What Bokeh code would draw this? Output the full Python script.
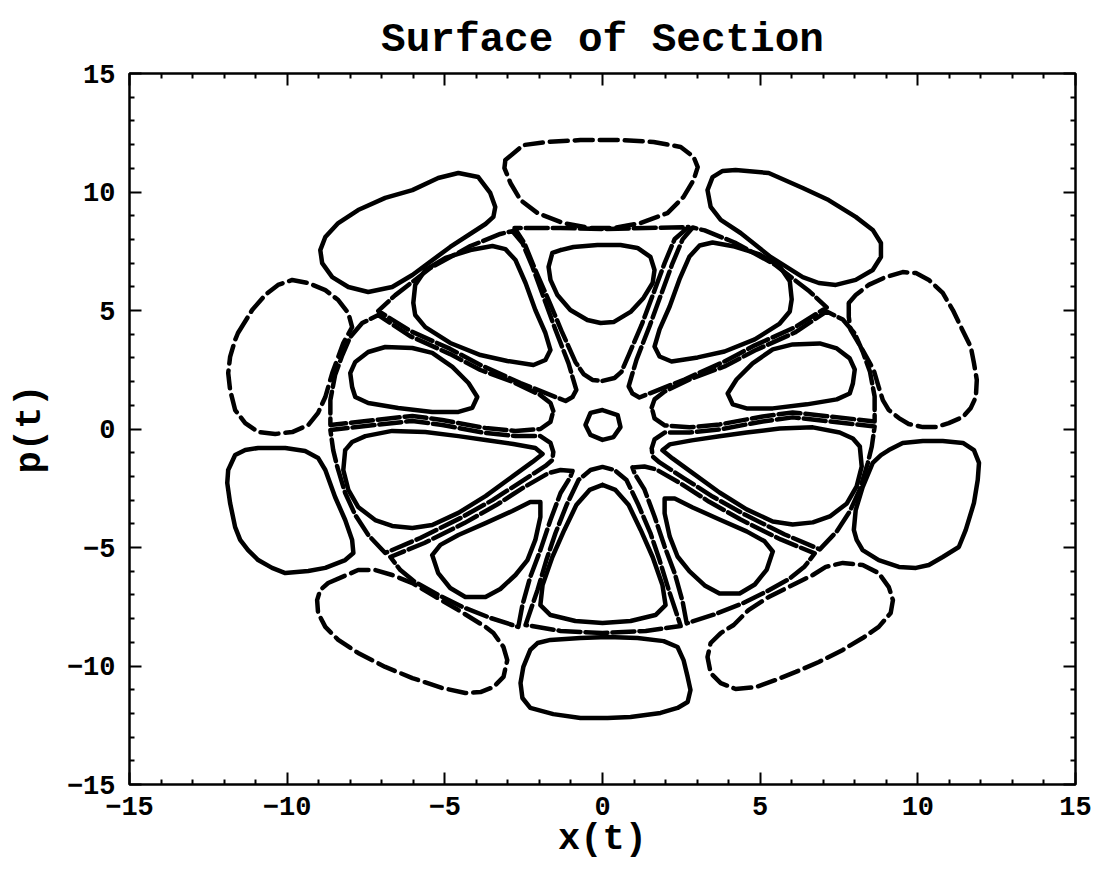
from bokeh.plotting import figure
from bokeh.models import Range1d, LinearAxis, FixedTicker
from bokeh.embed import file_html
from bokeh.resources import INLINE

# ---- outer ring of islands: (x, p) samples along each orbit ----
top_x = [-3.08, -2.51, -1.75, -0.70, 0.57, 1.62, 2.48, 2.89, 3.02, 2.89, 2.57, 2.06, 1.21, 0.35, -0.38, -1.24, -2.06, -2.60, -2.92, -3.11]
top_y = [11.35, 11.98, 12.11, 12.19, 12.19, 12.11, 11.90, 11.48, 11.05, 10.51, 9.79, 9.11, 8.69, 8.48, 8.48, 8.69, 9.11, 9.66, 10.38, 11.01]
ul_x = [-4.57, -3.94, -3.56, -3.40, -3.46, -3.71, -4.83, -6.03, -6.67, -7.43, -8.06, -8.57, -8.89, -8.95, -8.79, -8.38, -7.75, -6.89, -6.03, -5.21]
ul_y = [10.80, 10.63, 9.96, 9.37, 8.95, 8.65, 7.68, 6.50, 5.99, 5.78, 5.99, 6.41, 7.00, 7.55, 8.10, 8.69, 9.24, 9.75, 10.08, 10.59]
ur_x = [3.33, 3.49, 3.81, 4.22, 5.27, 6.35, 7.17, 8.03, 8.57, 8.83, 8.83, 8.57, 8.03, 7.40, 6.86, 6.35, 5.33, 4.38, 3.75, 3.43]
ur_y = [10.08, 10.63, 10.89, 10.93, 10.80, 10.17, 9.66, 8.95, 8.40, 7.85, 7.26, 6.71, 6.29, 6.08, 6.16, 6.41, 7.26, 8.27, 8.82, 9.37]
lu_x = [-11.56, -11.11, -10.70, -10.29, -9.84, -9.33, -8.79, -8.38, -8.06, -7.94, -8.22, -8.38, -8.57, -8.79, -9.02, -9.33, -9.84, -10.38, -10.92, -11.33, -11.65, -11.81, -11.87, -11.81, -11.65]
lu_y = [4.05, 5.02, 5.65, 6.08, 6.29, 6.16, 5.86, 5.44, 4.89, 4.30, 3.63, 3.04, 2.36, 1.35, 0.68, 0.17, -0.13, -0.21, -0.13, 0.25, 0.80, 1.65, 2.36, 3.04, 3.76]
ll_x = [-11.87, -11.65, -11.33, -10.92, -10.06, -9.43, -9.02, -8.79, -8.48, -8.16, -7.94, -7.90, -8.16, -8.79, -9.33, -10.06, -10.48, -10.92, -11.24, -11.49, -11.65, -11.81, -11.90]
ll_y = [-1.73, -1.10, -0.89, -0.80, -0.80, -0.93, -1.22, -1.73, -2.87, -3.84, -4.68, -5.23, -5.53, -5.86, -5.99, -6.08, -5.86, -5.53, -5.11, -4.68, -4.14, -3.12, -2.28]
bl_x = [-8.70, -8.25, -7.75, -7.21, -6.67, -6.03, -5.40, -4.57, -3.71, -3.46, -3.14, -3.02, -3.14, -3.46, -3.87, -4.35, -5.08, -6.03, -6.89, -7.75, -8.38, -8.79, -9.02, -9.05, -8.95]
bl_y = [-6.50, -6.24, -5.95, -5.95, -6.16, -6.50, -7.00, -7.64, -8.35, -8.61, -9.20, -9.75, -10.46, -10.89, -11.10, -11.14, -10.93, -10.51, -10.04, -9.45, -8.90, -8.35, -7.76, -7.22, -6.79]
bot_x = [-2.29, -2.06, -1.65, -0.70, 0.16, 1.11, 1.94, 2.38, 2.57, 2.70, 2.79, 2.70, 2.38, 1.84, 0.89, 0.16, -0.70, -1.56, -2.29, -2.54, -2.60, -2.51]
bot_y = [-9.32, -9.03, -8.90, -8.82, -8.78, -8.82, -8.95, -9.20, -9.75, -10.46, -11.01, -11.52, -11.77, -11.98, -12.15, -12.19, -12.19, -12.03, -11.77, -11.35, -10.72, -10.04]
br_x = [6.67, 7.08, 7.62, 8.25, 8.76, 9.08, 9.21, 9.14, 8.76, 8.25, 7.62, 6.86, 6.13, 5.49, 4.86, 4.22, 3.75, 3.43, 3.33, 3.43, 3.75, 4.16, 4.63, 5.27, 5.90, 6.35]
br_y = [-6.16, -5.82, -5.65, -5.74, -6.08, -6.67, -7.22, -7.76, -8.35, -8.82, -9.32, -9.83, -10.25, -10.59, -10.89, -10.97, -10.72, -10.30, -9.62, -9.03, -8.61, -8.27, -7.64, -7.09, -6.67, -6.37]
rl_x = [9.08, 9.52, 10.16, 10.79, 11.43, 11.78, 11.94, 11.90, 11.78, 11.52, 11.30, 10.79, 10.35, 9.94, 9.40, 8.76, 8.25, 8.06, 7.97, 8.03, 8.25, 8.57, 8.83]
rl_y = [-0.89, -0.59, -0.51, -0.51, -0.59, -0.89, -1.43, -2.15, -3.12, -4.26, -4.98, -5.40, -5.74, -5.86, -5.82, -5.53, -5.11, -4.68, -4.26, -3.42, -2.45, -1.43, -1.10]
ru_x = [7.81, 8.03, 8.44, 8.98, 9.52, 9.94, 10.35, 10.79, 11.11, 11.37, 11.68, 11.78, 11.87, 11.84, 11.68, 11.43, 10.98, 10.57, 10.16, 9.71, 9.40, 9.08, 8.89, 8.76, 8.60, 8.25, 7.87, 7.81]
ru_y = [5.32, 5.65, 6.08, 6.41, 6.62, 6.58, 6.29, 5.74, 5.02, 4.30, 3.46, 2.78, 2.07, 1.35, 0.89, 0.51, 0.25, 0.08, 0.08, 0.21, 0.46, 0.80, 1.22, 1.77, 2.49, 3.33, 4.18, 4.73]

# ---- inner ring of islands ----
isA_x = [-1.33, -0.92, -0.16, 0.57, 1.11, 1.52, 1.65, 1.59, 1.30, 0.89, 0.35, -0.06, -0.48, -1.02, -1.43, -1.65, -1.71, -1.59]
isA_y = [7.55, 7.68, 7.76, 7.76, 7.64, 7.26, 6.71, 6.16, 5.53, 4.94, 4.51, 4.47, 4.60, 5.02, 5.65, 6.29, 6.84, 7.43]
isB_x = [-6.00, -5.94, -5.62, -4.98, -4.19, -3.49, -3.08, -2.76, -2.44, -2.13, -1.81, -1.65, -1.81, -2.19, -3.02, -3.87, -4.83, -5.62, -5.94]
isB_y = [5.32, 6.08, 6.71, 7.22, 7.55, 7.72, 7.59, 7.13, 6.16, 5.02, 4.05, 3.33, 2.91, 2.70, 2.87, 3.12, 3.63, 4.30, 4.81]
isC_x = [6.00, 5.94, 5.62, 4.98, 4.19, 3.49, 3.08, 2.76, 2.44, 2.13, 1.81, 1.65, 1.81, 2.19, 3.02, 3.87, 4.83, 5.62, 5.94]
isC_y = [5.47, 6.23, 6.86, 7.37, 7.70, 7.87, 7.74, 7.28, 6.31, 5.17, 4.20, 3.48, 3.06, 2.85, 3.02, 3.27, 3.78, 4.45, 4.96]
isD_x = [-7.94, -8.00, -7.84, -7.43, -6.89, -6.03, -5.40, -4.76, -4.25, -3.97, -4.13, -4.57, -5.40, -6.48, -7.43, -7.84]
isD_y = [1.77, 2.36, 2.83, 3.25, 3.46, 3.42, 3.21, 2.62, 1.94, 1.35, 0.89, 0.72, 0.72, 0.89, 1.10, 1.35]
isE_x = [7.94, 8.00, 7.84, 7.43, 6.89, 6.03, 5.40, 4.76, 4.25, 3.97, 4.13, 4.57, 5.40, 6.48, 7.43, 7.84]
isE_y = [1.92, 2.51, 2.98, 3.40, 3.61, 3.57, 3.36, 2.77, 2.09, 1.50, 1.04, 0.87, 0.87, 1.04, 1.25, 1.50]
isF_x = [-8.16, -8.22, -8.06, -7.75, -7.21, -6.67, -6.03, -5.40, -4.57, -3.71, -2.83, -2.22, -1.90, -2.13, -2.83, -3.71, -4.57, -5.62, -6.67, -7.52, -7.94]
isF_y = [-0.89, -1.73, -2.57, -3.29, -3.84, -4.09, -4.18, -4.05, -3.54, -2.83, -1.98, -1.39, -1.05, -0.80, -0.63, -0.46, -0.30, -0.13, -0.08, -0.30, -0.55]
isG_x = [8.16, 8.22, 8.06, 7.75, 7.21, 6.67, 6.03, 5.40, 4.57, 3.71, 2.83, 2.22, 1.90, 2.13, 2.83, 3.71, 4.57, 5.62, 6.67, 7.52, 7.94]
isG_y = [-0.74, -1.58, -2.42, -3.14, -3.69, -3.94, -4.03, -3.90, -3.39, -2.68, -1.83, -1.24, -0.90, -0.65, -0.48, -0.31, -0.15, 0.02, 0.07, -0.15, -0.40]
isH_x = [-5.40, -5.14, -4.57, -3.71, -2.86, -2.29, -1.97, -1.97, -2.13, -2.38, -2.76, -3.24, -3.71, -4.35, -4.83, -5.21]
isH_y = [-5.32, -4.89, -4.47, -3.97, -3.46, -3.08, -3.08, -3.71, -4.68, -5.53, -6.16, -6.75, -7.09, -7.09, -6.71, -6.08]
isI_x = [5.40, 5.14, 4.57, 3.71, 2.86, 2.29, 1.97, 1.97, 2.13, 2.38, 2.76, 3.24, 3.71, 4.35, 4.83, 5.21]
isI_y = [-5.17, -4.74, -4.32, -3.82, -3.31, -2.93, -2.93, -3.56, -4.53, -5.38, -6.01, -6.60, -6.94, -6.94, -6.56, -5.93]
isJ_x = [0.00, 0.41, 0.83, 1.21, 1.59, 1.90, 2.00, 1.68, 0.89, 0.00, -0.86, -1.65, -1.97, -1.90, -1.59, -1.21, -0.83, -0.41]
isJ_y = [-2.36, -2.57, -3.21, -4.26, -5.40, -6.58, -7.43, -7.85, -8.10, -8.19, -8.10, -7.85, -7.43, -6.58, -5.40, -4.26, -3.21, -2.57]
core_x = [0.00, 0.48, 0.57, 0.35, 0.00, -0.38, -0.54, -0.38]
core_y = [0.80, 0.59, 0.08, -0.34, -0.46, -0.25, 0.17, 0.68]

# ---- separatrix cells around each inner island ----
cA_x = [0.00, 0.38, 0.60, 0.83, 1.24, 1.62, 1.97, 2.29, 2.73, 1.37, 0.00, -1.33, -2.79, -2.48, -2.13, -1.71, -1.30, -0.86, -0.60, -0.32]
cA_y = [2.03, 2.15, 2.41, 3.12, 4.39, 5.74, 7.00, 8.02, 8.52, 8.48, 8.44, 8.48, 8.48, 7.85, 6.71, 5.44, 4.14, 2.83, 2.32, 2.07]
cB_x = [-0.95, -0.83, -1.08, -1.49, -1.87, -2.22, -2.54, -2.86, -3.24, -4.19, -5.46, -6.57, -7.11, -6.10, -4.83, -3.87, -2.60, -1.49, -1.17]
cB_y = [1.35, 1.65, 2.78, 4.18, 5.57, 6.84, 7.85, 8.35, 8.23, 7.72, 6.79, 5.65, 4.98, 4.14, 3.38, 2.70, 1.94, 1.35, 1.18]
cC_x = [0.95, 0.83, 1.08, 1.49, 1.87, 2.22, 2.54, 2.86, 3.24, 4.19, 5.46, 6.57, 7.11, 6.10, 4.83, 3.87, 2.60, 1.49, 1.17]
cC_y = [1.50, 1.80, 2.93, 4.33, 5.72, 6.99, 8.00, 8.50, 8.38, 7.87, 6.94, 5.80, 5.13, 4.29, 3.53, 2.85, 2.09, 1.50, 1.33]
cD_x = [-1.56, -1.65, -1.97, -2.83, -3.87, -4.83, -6.10, -7.11, -7.62, -8.00, -8.25, -8.48, -8.63, -8.63, -7.21, -6.03, -5.08, -3.71, -2.76, -1.97, -1.65]
cD_y = [0.76, 1.10, 1.43, 1.98, 2.49, 3.16, 3.92, 4.81, 4.47, 3.88, 3.12, 2.28, 1.22, 0.17, 0.38, 0.55, 0.38, 0.04, -0.08, 0.00, 0.30]
cE_x = [1.56, 1.65, 1.97, 2.83, 3.87, 4.83, 6.10, 7.11, 7.62, 8.00, 8.25, 8.48, 8.63, 8.63, 7.21, 6.03, 5.08, 3.71, 2.76, 1.97, 1.65]
cE_y = [0.91, 1.25, 1.58, 2.13, 2.64, 3.31, 4.07, 4.96, 4.62, 4.03, 3.27, 2.43, 1.37, 0.32, 0.53, 0.70, 0.53, 0.19, 0.07, 0.15, 0.45]
cF_x = [-1.56, -1.65, -1.97, -2.76, -3.71, -5.08, -6.03, -7.21, -8.63, -8.54, -8.41, -8.16, -7.84, -7.43, -6.89, -5.78, -4.51, -3.49, -2.60, -1.81, -1.59]
cF_y = [-0.97, -0.59, -0.30, -0.30, -0.17, 0.17, 0.34, 0.17, -0.04, -0.89, -1.60, -2.70, -3.63, -4.47, -5.23, -4.60, -3.76, -3.00, -2.24, -1.56, -1.31]
cG_x = [1.56, 1.65, 1.97, 2.76, 3.71, 5.08, 6.03, 7.21, 8.63, 8.54, 8.41, 8.16, 7.84, 7.43, 6.89, 5.78, 4.51, 3.49, 2.60, 1.81, 1.59]
cG_y = [-0.82, -0.44, -0.15, -0.15, -0.02, 0.32, 0.49, 0.32, 0.11, -0.74, -1.45, -2.55, -3.48, -4.32, -5.08, -4.45, -3.61, -2.85, -2.09, -1.41, -1.16]
cH_x = [-0.95, -1.33, -1.71, -2.48, -3.37, -4.38, -5.65, -6.73, -6.41, -5.94, -5.21, -4.44, -3.56, -2.67, -2.54, -2.29, -1.97, -1.65, -1.33, -1.02]
cH_y = [-1.77, -1.73, -1.86, -2.45, -3.21, -3.97, -4.81, -5.40, -5.95, -6.46, -7.00, -7.51, -7.97, -8.35, -7.43, -6.24, -5.11, -3.84, -2.70, -2.03]
cI_x = [0.95, 1.33, 1.71, 2.48, 3.37, 4.38, 5.65, 6.73, 6.41, 5.94, 5.21, 4.44, 3.56, 2.67, 2.54, 2.29, 1.97, 1.65, 1.33, 1.02]
cI_y = [-1.62, -1.58, -1.71, -2.30, -3.06, -3.82, -4.66, -5.25, -5.80, -6.31, -6.85, -7.36, -7.82, -8.20, -7.28, -6.09, -4.96, -3.69, -2.55, -1.88]
cJ_x = [0.00, -0.38, -0.76, -1.14, -1.49, -1.78, -2.06, -2.44, -1.33, 0.00, 1.37, 2.48, 2.10, 1.81, 1.52, 1.14, 0.76, 0.38]
cJ_y = [-1.60, -1.73, -2.15, -3.21, -4.39, -5.53, -6.79, -8.27, -8.52, -8.61, -8.52, -8.31, -6.79, -5.53, -4.39, -3.21, -2.15, -1.73]

# axis ticks
major_ticks = [-15, -10, -5, 0, 5, 10, 15]
minor_ticks = [v for v in range(-15, 16) if v % 5 != 0]
tick_text = ["\u221215", "\u221210", "\u22125", "0", "5", "10", "15"]

SOLID = None
DASHED = "18 7"
BROKEN = "22 5"

curves = [
    (top_x, top_y, DASHED), (ul_x, ul_y, SOLID), (ur_x, ur_y, SOLID),
    (lu_x, lu_y, DASHED), (ll_x, ll_y, SOLID), (bl_x, bl_y, DASHED),
    (bot_x, bot_y, SOLID), (br_x, br_y, DASHED), (rl_x, rl_y, SOLID),
    (ru_x, ru_y, DASHED),
    (isA_x, isA_y, SOLID), (isB_x, isB_y, SOLID), (isC_x, isC_y, SOLID),
    (isD_x, isD_y, SOLID), (isE_x, isE_y, SOLID), (isF_x, isF_y, SOLID),
    (isG_x, isG_y, SOLID), (isH_x, isH_y, SOLID), (isI_x, isI_y, SOLID),
    (isJ_x, isJ_y, SOLID), (core_x, core_y, SOLID),
    (cA_x, cA_y, BROKEN), (cB_x, cB_y, BROKEN), (cC_x, cC_y, BROKEN),
    (cD_x, cD_y, BROKEN), (cE_x, cE_y, BROKEN), (cF_x, cF_y, BROKEN),
    (cG_x, cG_y, BROKEN), (cH_x, cH_y, BROKEN), (cI_x, cI_y, BROKEN),
    (cJ_x, cJ_y, BROKEN),
]

FONT = "Liberation Mono"

p = figure(width=1096, height=883, output_backend="svg", toolbar_location=None,
           x_range=Range1d(-15, 15), y_range=Range1d(-15, 15),
           min_border_left=129, min_border_right=21, min_border_top=73,
           min_border_bottom=99, x_axis_location=None, y_axis_location=None)
p.title.text = "Surface of Section"
p.title.align = "center"
p.title.text_font = FONT
p.title.text_font_style = "bold"
p.title.text_font_size = "41px"
p.title.text_color = "black"
p.title.standoff = 22

p.grid.visible = False
p.outline_line_color = "black"
p.outline_line_width = 2.5
p.background_fill_color = "white"
p.border_fill_color = "white"


def style_ticks(ax):
    ax.axis_line_color = None
    ax.major_tick_in = 12
    ax.major_tick_out = 0
    ax.minor_tick_in = 5
    ax.minor_tick_out = 0
    ax.major_tick_line_width = 2
    ax.minor_tick_line_width = 2
    ax.major_tick_line_color = "black"
    ax.minor_tick_line_color = "black"


def labelled_axis(label, standoff, label_standoff):
    ax = LinearAxis(ticker=FixedTicker(ticks=major_ticks, minor_ticks=minor_ticks))
    style_ticks(ax)
    ax.major_label_overrides = dict(zip(major_ticks, tick_text))
    ax.major_label_text_font = FONT
    ax.major_label_text_font_style = "bold"
    ax.major_label_text_font_size = "27px"
    ax.major_label_text_color = "black"
    ax.major_label_standoff = standoff
    ax.axis_label = label
    ax.axis_label_text_font = FONT
    ax.axis_label_text_font_style = "bold"
    ax.axis_label_text_font_size = "37px"
    ax.axis_label_text_color = "black"
    ax.axis_label_standoff = label_standoff
    return ax


def tick_only_axis(positions, length):
    # an axis that carries only short inward ticks (no labels)
    ax = LinearAxis(ticker=FixedTicker(ticks=[], minor_ticks=positions))
    style_ticks(ax)
    ax.minor_tick_in = length
    ax.major_label_standoff = 0
    ax.axis_label_standoff = 0
    return ax


p.add_layout(labelled_axis("x(t)", 12, 0), "below")
p.add_layout(labelled_axis("p(t)", 14, 13), "left")
for side in ("above", "right"):
    p.add_layout(tick_only_axis(minor_ticks, 5), side)
    p.add_layout(tick_only_axis(major_ticks, 12), side)

for xs, ys, dash in curves:
    cx = list(xs) + [xs[0]]
    cy = list(ys) + [ys[0]]
    kw = dict(line_color="black", line_width=4.5, line_join="round", line_cap="round")
    if dash:
        kw["line_dash"] = dash
    p.line(cx, cy, **kw)

open("out.html", "w").write(file_html(p, INLINE))
